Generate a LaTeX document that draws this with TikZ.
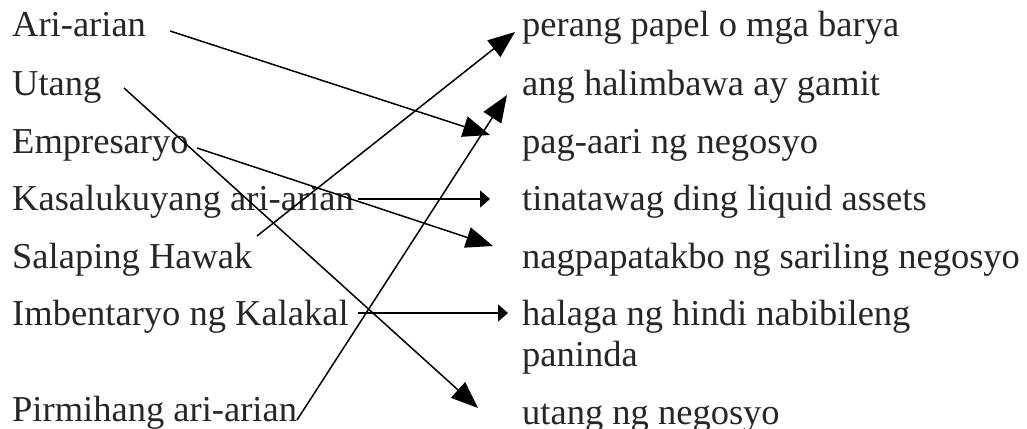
\documentclass[tikz,border=0pt]{standalone}
\usepackage{fontspec}
\setmainfont{Liberation Serif}
\usetikzlibrary{arrows.meta}
\usetikzlibrary{positioning}

\begin{document}
\begin{tikzpicture}[
    x=1pt, y=-1pt,
    font=\fontsize{36.5}{41}\selectfont
]
\tikzset{
    term/.style = {anchor=base west, inner sep=0pt, text=black!85},
    edgebig/.style = {-{Triangle[length=27pt,width=21pt]}, line width=1.5pt},
    edgesmall/.style = {-{Triangle[length=10pt,width=17pt]}, line width=1.5pt}
}
\useasboundingbox (0,0) rectangle (1027,428);
% left column
\node[term] at (12,37) (ari) {Ari-arian};
\node[term] at (12,95) (utang) {Utang};
\node[term] at (12,153) (emp) {Empresaryo};
\node[term] at (12,210) (kasa) {Kasalukuyang ari-arian};
\node[term] at (12,268) (sala) {Salaping Hawak};
\node[term] at (12,325) (imb) {Imbentaryo ng Kalakal};
\node[term] at (12,421) (pirm) {Pirmihang ari-arian};
% right column
\node[term] at (522,37) (pera) {perang papel o mga barya};
\node[term] at (522,95) (gamit) {ang halimbawa ay gamit};
\node[term] at (522,153) (pag) {pag-aari ng negosyo};
\node[term] at (522,210) (liq) {tinatawag ding liquid assets};
\node[term] at (522,268) (nag) {nagpapatakbo ng sariling negosyo};
\node[term, align=left] at (522,366) (hal) {halaga ng hindi nabibileng\\paninda};
\node[term] at (522,424) (unn) {utang ng negosyo};
% arrow ends
\coordinate (ari-s) at (170,31);   \coordinate (ari-e) at (490,135);
\coordinate (uta-s) at (124,88);   \coordinate (uta-e) at (478,408);
\coordinate (emp-s) at (197,148);  \coordinate (emp-e) at (493,246);
\coordinate (kas-s) at (358,199);  \coordinate (kas-e) at (490,199);
\coordinate (sal-s) at (257,236);  \coordinate (sal-e) at (515,32);
\coordinate (imb-s) at (358,313);  \coordinate (imb-e) at (508,313);
\coordinate (pir-s) at (297,420);  \coordinate (pir-e) at (507,95);
\draw[edgebig] (ari-s) -- (ari-e);
\draw[edgebig] (uta-s) -- (uta-e);
\draw[edgebig] (emp-s) -- (emp-e);
\draw[edgesmall] (kas-s) -- (kas-e);
\draw[edgebig] (sal-s) -- (sal-e);
\draw[edgesmall] (imb-s) -- (imb-e);
\draw[edgebig] (pir-s) -- (pir-e);
\end{tikzpicture}
\end{document}
